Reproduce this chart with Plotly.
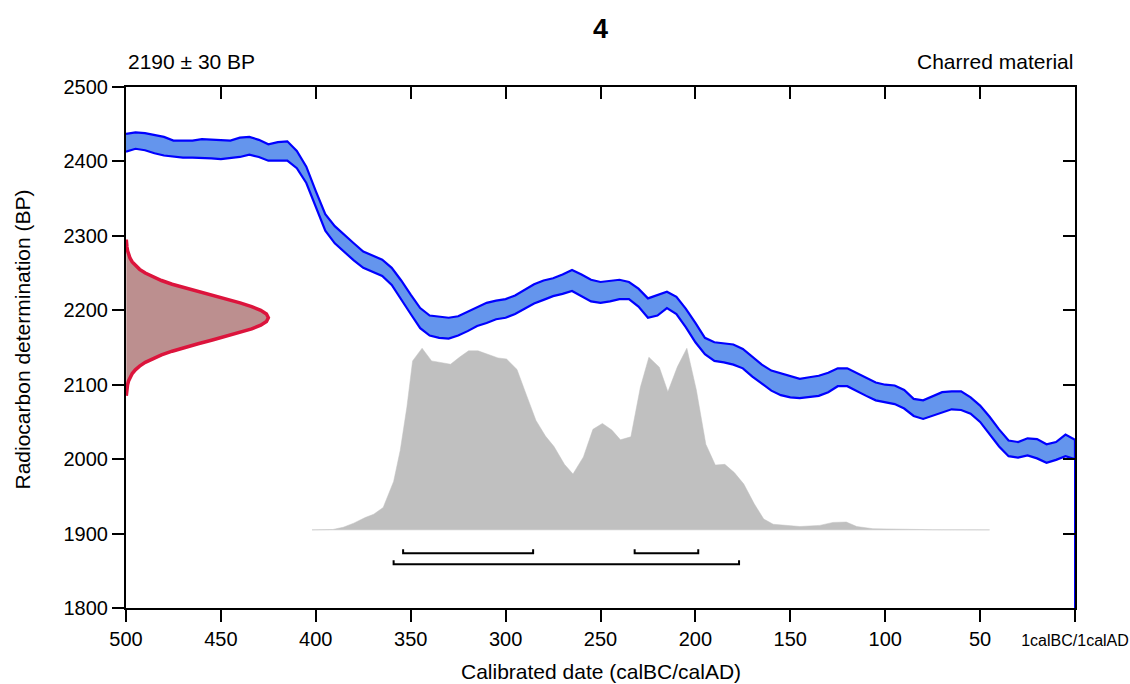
import plotly.graph_objects as go

# ---------------- data ----------------
cal_years = [500, 495, 490, 485, 480, 475, 470, 465, 460, 455, 450, 445, 440, 435, 430, 425, 420, 415, 410, 405,
             400, 395, 390, 385, 380, 375, 370, 365, 360, 355, 350, 345, 340, 335, 330, 325, 320, 315, 310, 305,
             300, 295, 290, 285, 280, 275, 270, 265, 260, 255, 250, 245, 240, 235, 230, 225, 220, 215, 210, 205,
             200, 195, 190, 185, 180, 175, 170, 165, 160, 155, 150, 145, 140, 135, 130, 125, 120, 115, 110, 105,
             100, 95, 90, 85, 80, 75, 70, 65, 60, 55, 50, 45, 40, 35, 30, 25, 20, 15, 10, 5, 0]
curve_upper = [2437, 2439, 2438, 2435, 2433, 2428, 2428, 2428, 2430, 2429, 2428, 2428, 2432, 2433, 2429, 2423, 2426, 2427, 2414, 2393,
               2360, 2329, 2313, 2301, 2290, 2279, 2274, 2268, 2257, 2240, 2221, 2203, 2193, 2191, 2190, 2192, 2198, 2205, 2210, 2213,
               2215, 2220, 2227, 2235, 2240, 2243, 2248, 2254, 2248, 2241, 2238, 2239, 2241, 2238, 2229, 2216, 2220, 2225, 2218, 2202,
               2183, 2163, 2157, 2156, 2154, 2148, 2138, 2127, 2119, 2115, 2111, 2108, 2110, 2112, 2116, 2122, 2122, 2116, 2110, 2103,
               2100, 2099, 2093, 2081, 2079, 2084, 2090, 2091, 2091, 2083, 2072, 2057, 2040, 2025, 2023, 2028, 2027, 2020, 2023, 2033, 2026]
curve_lower = [2413, 2417, 2415, 2411, 2408, 2406, 2405, 2405, 2405, 2404, 2403, 2404, 2406, 2409, 2406, 2401, 2401, 2401, 2391, 2371,
               2338, 2307, 2290, 2279, 2267, 2257, 2251, 2246, 2234, 2215, 2195, 2176, 2166, 2163, 2162, 2166, 2172, 2179, 2183, 2188,
               2190, 2195, 2202, 2209, 2214, 2219, 2222, 2226, 2219, 2212, 2210, 2212, 2215, 2215, 2205, 2190, 2193, 2203, 2195, 2177,
               2157, 2141, 2132, 2130, 2127, 2122, 2111, 2101, 2092, 2086, 2083, 2082, 2083, 2085, 2090, 2098, 2098, 2092, 2085, 2079,
               2077, 2074, 2068, 2058, 2054, 2058, 2063, 2067, 2066, 2061, 2050, 2033, 2017, 2004, 2002, 2005, 2001, 1995, 1999, 2004, 2000]

meas_bp = [2085, 2090, 2095, 2100, 2105, 2110, 2115, 2120, 2125, 2130, 2135, 2140, 2145, 2150, 2155, 2160, 2165, 2170, 2175,
           2180, 2185, 2190, 2195, 2200, 2205, 2210, 2215, 2220, 2225, 2230, 2235, 2240, 2245, 2250, 2255, 2260, 2265, 2270,
           2275, 2280, 2285, 2290, 2295]
meas_width = [0.16, 0.29, 0.5, 0.83, 1.35, 2.14, 3.29, 4.93, 7.17, 10.15, 14.0, 18.7, 24.3, 30.8, 38.0, 45.5, 53.0, 60.1, 66.2,
              71.0, 74.0, 75.0, 74.0, 71.0, 66.2, 60.1, 53.0, 45.5, 38.0, 30.8, 24.3, 18.7, 14.0, 10.15, 7.17, 4.93, 3.29, 2.14,
              1.35, 0.83, 0.5, 0.29, 0.16]

# calibrated probability distribution (drawn on the BP scale above its baseline)
prob_years = [402, 391, 385.5, 380, 374, 369.5, 364.5, 359, 355.5, 352, 349, 344, 339, 329, 324, 319.5, 314.5, 309, 304, 299.5,
              294, 289, 284, 279, 274.5, 269, 264.5, 259, 254, 249, 244, 239.5, 234, 229, 224.5, 219, 214.5, 209.5, 204.5, 199.5,
              194.5, 189.5, 184.5, 179.5, 174.5, 169, 164, 159, 150, 145, 134.5, 127.5, 120.5, 115, 106.5, 92, 75, 45]
prob_values = [1905, 1905.5, 1908.5, 1914, 1921.5, 1926, 1935, 1970, 2012, 2070, 2132, 2149, 2132, 2127.5, 2137.5, 2145.5, 2145.5, 2140, 2136, 2134.5,
               2120.5, 2086, 2052, 2031, 2017, 1993, 1980, 2003, 2040, 2048, 2039, 2026, 2030, 2096.5, 2137, 2123.5, 2090.5, 2124, 2149, 2093,
               2020, 1992, 1993, 1982, 1966.5, 1940, 1919.5, 1912.5, 1910, 1909.5, 1911, 1915, 1915.5, 1909.5, 1906.5, 1905.5, 1905.2, 1905]
prob_baseline = 1905

# highest posterior density ranges (cal BC)
range_68_start = [354, 232]
range_68_end = [285.5, 198.5]
range_95_start = [359]
range_95_end = [177]

x_tickvals = [500, 450, 400, 350, 300, 250, 200, 150, 100, 50, 0]
x_ticktext = ["500", "450", "400", "350", "300", "250", "200", "150", "100", "50",
              '<span style="font-size:16px">1calBC/1calAD</span>']
y_tickvals = [1800, 1900, 2000, 2100, 2200, 2300, 2400, 2500]

# ---------------- styles / positions ----------------
FONT = "Liberation Sans, Arial, sans-serif"
Y68 = 1873.5
Y95 = 1858.7
CAP = 5.5

fig = go.Figure()

# calibration curve band
fig.add_trace(go.Scatter(
    x=cal_years + cal_years[::-1],
    y=curve_upper + curve_lower[::-1],
    mode="lines", fill="toself", fillcolor="#6495ED",
    line=dict(color="#0000FF", width=2.2), hoverinfo="skip", showlegend=False))
# drop line at the right edge
fig.add_trace(go.Scatter(x=[cal_years[-1], cal_years[-1]], y=[1800, curve_lower[-1]],
                         mode="lines", line=dict(color="#0000FF", width=2), showlegend=False, hoverinfo="skip"))

# probability distribution
fig.add_trace(go.Scatter(
    x=prob_years + prob_years[::-1],
    y=prob_values + [prob_baseline] * len(prob_years),
    mode="lines", fill="toself", fillcolor="#C0C0C0",
    line=dict(color="#C0C0C0", width=0.5), hoverinfo="skip", showlegend=False))

# measurement distribution on the y axis
fig.add_trace(go.Scatter(
    x=[500 - w for w in meas_width],
    y=meas_bp,
    mode="lines", fill="toself", fillcolor="#BC8F8F",
    line=dict(color="#DC143C", width=3.5), hoverinfo="skip", showlegend=False))

# range brackets
for s, e in zip(range_68_start, range_68_end):
    fig.add_trace(go.Scatter(x=[s, s, e, e], y=[Y68 + CAP, Y68, Y68, Y68 + CAP], mode="lines",
                             line=dict(color="black", width=2), showlegend=False, hoverinfo="skip"))
for s, e in zip(range_95_start, range_95_end):
    fig.add_trace(go.Scatter(x=[s, s, e, e], y=[Y95 + CAP, Y95, Y95, Y95 + CAP], mode="lines",
                             line=dict(color="black", width=2), showlegend=False, hoverinfo="skip"))

# invisible anchors so the mirrored (top / right) axes are drawn
fig.add_trace(go.Scatter(x=[None], y=[None], xaxis="x2", yaxis="y", mode="lines",
                         showlegend=False, hoverinfo="skip"))
fig.add_trace(go.Scatter(x=[None], y=[None], xaxis="x", yaxis="y2", mode="lines",
                         showlegend=False, hoverinfo="skip"))

axis_common = dict(showgrid=False, zeroline=False, showline=True, linecolor="black", linewidth=2,
                   tickcolor="black", tickwidth=2, ticklen=12, automargin=False)

fig.update_layout(
    width=1130, height=684,
    margin=dict(l=126, r=55, t=87, b=76, autoexpand=False),
    paper_bgcolor="white", plot_bgcolor="white",
    font=dict(family=FONT, size=20, color="black"),
    showlegend=False,
    xaxis=dict(range=[500, 0], tickmode="array", tickvals=x_tickvals, ticktext=x_ticktext,
               ticks="outside", tickfont=dict(size=20), **axis_common),
    yaxis=dict(range=[1800, 2500], tickmode="array", tickvals=y_tickvals,
               ticks="outside", tickfont=dict(size=20), **axis_common),
    xaxis2=dict(range=[500, 0], overlaying="x", side="top", anchor="y", tickmode="array",
                tickvals=x_tickvals, ticks="inside", showticklabels=False, **axis_common),
    yaxis2=dict(range=[1800, 2500], overlaying="y", side="right", anchor="x", tickmode="array",
                tickvals=y_tickvals, ticks="inside", showticklabels=False, **axis_common),
    annotations=[
        dict(text="<b>4</b>", xref="paper", yref="paper", x=0.5, y=1, yshift=58,
             xanchor="center", yanchor="middle", showarrow=False, font=dict(size=27)),
        dict(text="2190 ± 30 BP", xref="paper", yref="paper", x=0, y=1, yshift=26,
             xanchor="left", yanchor="middle", showarrow=False, font=dict(size=21)),
        dict(text="Charred material", xref="paper", yref="paper", x=1, y=1, yshift=26,
             xanchor="right", yanchor="middle", showarrow=False, font=dict(size=21)),
        dict(text="Calibrated date (calBC/calAD)", xref="paper", yref="paper", x=0.5, y=0, yshift=-63,
             xanchor="center", yanchor="middle", showarrow=False, font=dict(size=21)),
        dict(text="Radiocarbon determination (BP)", xref="paper", yref="paper", x=0, y=0.5, xshift=-104, yshift=8,
             xanchor="center", yanchor="middle", textangle=-90, showarrow=False, font=dict(size=21)),
    ],
)

fig.write_html("out.html")
